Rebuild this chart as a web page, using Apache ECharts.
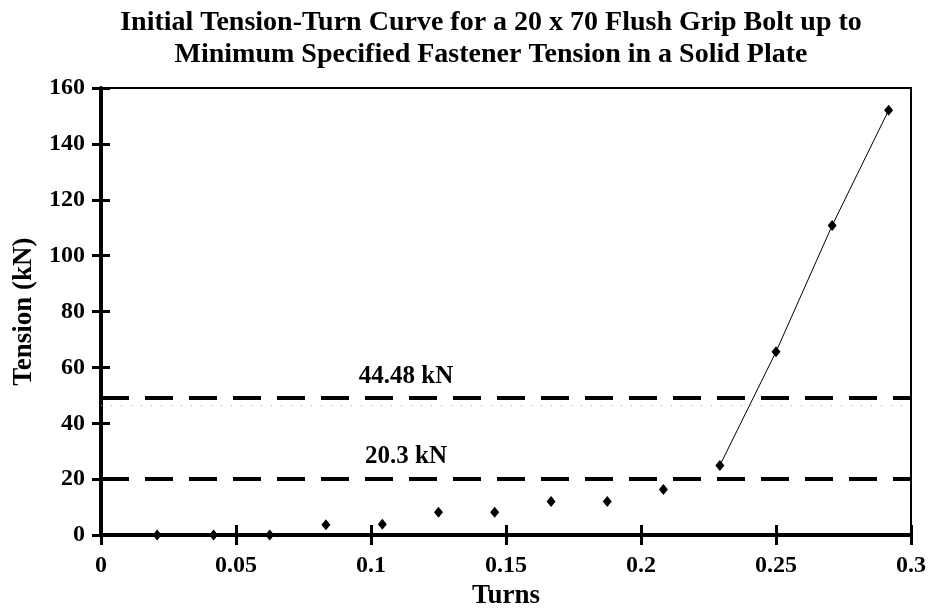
<!DOCTYPE html>
<html>
<head>
<meta charset="utf-8">
<script src="https://cdn.jsdelivr.net/npm/echarts@6/dist/echarts.min.js"></script>
<style>
  html, body { margin: 0; padding: 0; background: #fff; }
  #chart { width: 929px; height: 615px; }
</style>
</head>
<body>
<div id="chart"></div>
<script>
// 每个测点：转数与对应的拉力 (kN)
var turns   = [0.0208, 0.0417, 0.0625, 0.0833, 0.1042, 0.125, 0.1458, 0.1667, 0.1875, 0.2083, 0.2292, 0.25, 0.2708, 0.2917];
var tension = [0, 0, 0, 3.7, 3.9, 8.2, 8.2, 12, 12, 16.3, 24.9, 65.6, 110.8, 152];
// 直线段只连最后四个点
var fitStart = 10;
// 两条虚线参考值及其文字
var refValues = [49, 20.3];
var refLabels = ['44.48 kN', '20.3 kN'];
var refLabelTurn = 0.113;
// 扫描件上那条浅色点线
var scanDotValue = 46.4;
var xTicks = [0, 0.05, 0.1, 0.15, 0.2, 0.25, 0.3];
var yTicks = [0, 20, 40, 60, 80, 100, 120, 140, 160];

var serif = "'Liberation Serif', 'Times New Roman', serif";

var points = turns.map(function (t, i) { return [t, tension[i]]; });
var fitLine = points.slice(fitStart);
var refText = refValues.map(function (v, i) { return [refLabelTurn, v, refLabels[i]]; });

var myChart = echarts.init(document.getElementById('chart'));

// 坐标轴公共样式
function baseAxis(ticks) {
    return {
        type: 'value',
        min: ticks[0],
        max: ticks[ticks.length - 1],
        interval: ticks[1] - ticks[0],
        splitLine: { show: false }
    };
}

var xMain = Object.assign(baseAxis(xTicks), {
    position: 'bottom',
    name: 'Turns',
    nameLocation: 'middle',
    nameGap: 47,
    nameTextStyle: { fontFamily: serif, fontWeight: 'bold', fontSize: 27, color: '#000' },
    axisLine: { lineStyle: { color: '#000', width: 4 } },
    axisTick: { show: true, inside: false, length: 10, lineStyle: { color: '#000', width: 3 } },
    axisLabel: { margin: 19, fontFamily: serif, fontWeight: 'bold', fontSize: 24, color: '#000' }
});
// 第二条轴只画向内的刻度，组成十字刻度
var xInner = Object.assign(baseAxis(xTicks), {
    position: 'bottom',
    axisLine: { show: false },
    axisTick: { show: true, inside: true, length: 10, lineStyle: { color: '#000', width: 3 } },
    axisLabel: { show: false }
});
var yMain = Object.assign(baseAxis(yTicks), {
    position: 'left',
    name: 'Tension (kN)',
    nameLocation: 'middle',
    nameGap: 63,
    nameTextStyle: { fontFamily: serif, fontWeight: 'bold', fontSize: 27, color: '#000' },
    axisLine: { lineStyle: { color: '#000', width: 4 } },
    axisTick: { show: true, inside: false, length: 9, lineStyle: { color: '#000', width: 3 } },
    axisLabel: { margin: 16, fontFamily: serif, fontWeight: 'bold', fontSize: 24, color: '#000' }
});
var yInner = Object.assign(baseAxis(yTicks), {
    position: 'left',
    axisLine: { show: false },
    axisTick: { show: true, inside: true, length: 9, lineStyle: { color: '#000', width: 3 } },
    axisLabel: { show: false }
});

var options = {
    backgroundColor: '#fff',
    animation: false,
    title: {
        text: 'Initial Tension-Turn Curve for a 20 x 70 Flush Grip Bolt up to\nMinimum Specified Fastener Tension in a Solid Plate',
        left: 486,
        textAlign: 'center',
        top: 2,
        textStyle: { fontFamily: serif, fontWeight: 'bold', fontSize: 28, lineHeight: 32, color: '#000' }
    },
    grid: {
        left: 101, right: 18, top: 88, bottom: 79,
        show: true, borderColor: '#000', borderWidth: 2, backgroundColor: 'transparent'
    },
    xAxis: [xMain, xInner],
    yAxis: [yMain, yInner],
    series: [
        {
            name: 'fit',
            type: 'line',
            data: fitLine,
            showSymbol: false,
            symbol: 'none',
            lineStyle: { color: '#000', width: 1 },
            z: 3,
            markLine: {
                silent: true,
                symbol: 'none',
                label: { show: false },
                data: refValues.map(function (v) {
                    return { yAxis: v, lineStyle: { color: '#000', width: 4, type: [28, 16] } };
                }).concat([{ yAxis: scanDotValue, lineStyle: { color: '#aaa', width: 1, type: [1, 9] } }])
            }
        },
        {
            name: 'points',
            type: 'scatter',
            data: points,
            symbol: 'diamond',
            symbolSize: [9, 11],
            itemStyle: { color: '#000', opacity: 1 },
            z: 4
        },
        {
            name: 'refText',
            type: 'scatter',
            data: refText,
            symbolSize: 1,
            itemStyle: { color: 'rgba(0,0,0,0)', opacity: 1 },
            label: {
                show: true,
                position: 'top',
                distance: 9,
                formatter: function (p) { return p.data[2]; },
                fontFamily: serif, fontWeight: 'bold', fontSize: 25, color: '#000'
            },
            silent: true
        }
    ]
};
myChart.setOption(options);
</script>
</body>
</html>
